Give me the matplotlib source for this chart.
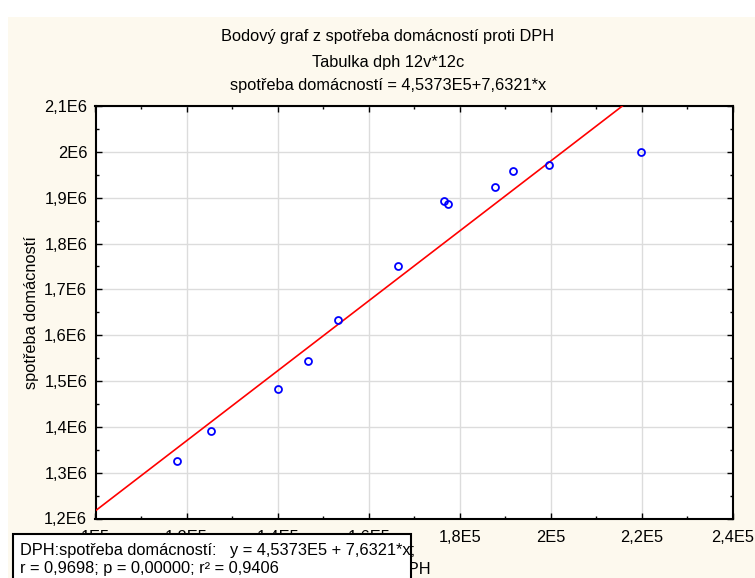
import numpy as np
import matplotlib.pyplot as plt
from matplotlib.patches import Rectangle

plt.rcParams['font.family'] = ['Liberation Sans', 'DejaVu Sans']

# data (x = DPH, y = spotřeba domácností)
dph = np.array([117800, 125300, 140100, 146700, 153250, 166400,
                176500, 177500, 187800, 191650, 199550, 219850])
spotreba = np.array([1.3262e6, 1.3917e6, 1.4828e6, 1.5445e6, 1.6328e6, 1.7513e6,
                     1.8932e6, 1.8867e6, 1.9223e6, 1.9581e6, 1.9712e6, 2.0002e6])

# regression line from the chart
a0, a1 = 4.5373e5, 7.6321

x_ticks = [1e5, 1.2e5, 1.4e5, 1.6e5, 1.8e5, 2e5, 2.2e5, 2.4e5]
x_labels = ["1E5", "1,2E5", "1,4E5", "1,6E5", "1,8E5", "2E5", "2,2E5", "2,4E5"]
y_ticks = [1.2e6, 1.3e6, 1.4e6, 1.5e6, 1.6e6, 1.7e6, 1.8e6, 1.9e6, 2e6, 2.1e6]
y_labels = ["1,2E6", "1,3E6", "1,4E6", "1,5E6", "1,6E6", "1,7E6", "1,8E6", "1,9E6", "2E6", "2,1E6"]

fs = 11.8
W, H = 755, 578
fig = plt.figure(figsize=(W / 100, H / 100), dpi=100, facecolor="white")

# cream background panel
fig.patches.append(Rectangle((8 / W, 0), 1 - 8 / W, 1 - 17 / H, transform=fig.transFigure,
                             facecolor="#fdf9ee", edgecolor="none", zorder=-5))

ax = fig.add_axes([95.5 / W, 1 - 518.5 / H, (733 - 95.5) / W, (518.5 - 106) / H])
ax.set_facecolor("white")

xl = np.array([1e5, 2.4e5])
ax.plot(xl, a0 + a1 * xl, color="red", lw=1.2, zorder=3)
ax.plot(dph, spotreba, "o", ms=5, mfc="none", mec="blue", mew=1.3, zorder=4)

ax.set_xlim(1e5, 2.4e5)
ax.set_ylim(1.2e6, 2.1e6)
ax.set_xticks(x_ticks)
ax.set_xticklabels(x_labels)
ax.set_yticks(y_ticks)
ax.set_yticklabels(y_labels)
ax.set_xticks(np.arange(1.1e5, 2.4e5, 2e4), minor=True)
ax.set_yticks(np.arange(1.25e6, 2.1e6, 1e5), minor=True)
ax.tick_params(which="both", direction="in", top=True, right=True, labelsize=fs)
ax.tick_params(axis="x", pad=8.5)
ax.tick_params(axis="y", pad=6)
ax.tick_params(which="major", length=4, width=1)
ax.tick_params(which="minor", length=2.5, width=1)
ax.grid(True, which="major", color="#dcdcdc", lw=1)
ax.set_axisbelow(True)
for s in ax.spines.values():
    s.set_linewidth(1.5)

ax.set_xlabel("DPH", fontsize=fs, labelpad=12)
ax.set_ylabel("spotřeba domácností", fontsize=fs, labelpad=4)

fig.text(388 / W, 1 - 36 / H, "Bodový graf z spotřeba domácností proti DPH",
         ha="center", va="center", fontsize=fs)
fig.text(388 / W, 1 - 62 / H, "Tabulka dph 12v*12c", ha="center", va="center", fontsize=fs)
fig.text(388 / W, 1 - 85.5 / H, "spotřeba domácností = 4,5373E5+7,6321*x",
         ha="center", va="center", fontsize=fs)

# regression info box
fig.patches.append(Rectangle((12.7 / W, -0.05), (410.7 - 12.7) / W, 0.05 + 1 - 534.3 / H,
                             transform=fig.transFigure, facecolor="white",
                             edgecolor="black", lw=1.5, zorder=10))
fig.text(20 / W, 1 - 550.5 / H, "DPH:spotřeba domácností:   y = 4,5373E5 + 7,6321*x;",
         ha="left", va="center", fontsize=fs, zorder=11)
fig.text(20 / W, 1 - 568.5 / H, "r = 0,9698; p = 0,00000; r² = 0,9406",
         ha="left", va="center", fontsize=fs, zorder=11)

fig.savefig("out.png", dpi=100)
